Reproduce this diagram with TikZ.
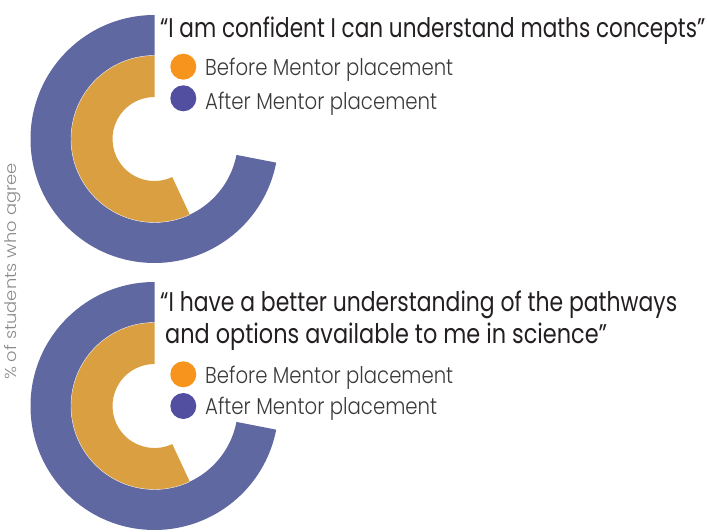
\documentclass[tikz,border=0pt]{standalone}
\usepackage{fontspec}
\usepackage{graphicx}
\setmainfont{Poppins}
\IfFontExistsTF{Poppins Light}{\newfontfamily\lightfont{Poppins Light}}{\newfontfamily\lightfont{Poppins}}
\usetikzlibrary{calc}
\definecolor{ringpurple}{HTML}{5F68A0}
\definecolor{ringorange}{HTML}{DA9F40}
\definecolor{legorange}{HTML}{F7941D}
\definecolor{legpurple}{HTML}{524FA1}
\definecolor{titletext}{HTML}{231F20}
\definecolor{legtext}{HTML}{3A3A3C}
\definecolor{axistext}{HTML}{8A8A8C}
\newcommand{\fitwidth}[2]{\resizebox{#1}{\height}{#2}}
\tikzset{
  titlestyle/.style={anchor=base west, inner sep=0pt, text=titletext, font=\fontsize{27}{32}\selectfont},
  legstyle/.style={anchor=base west, inner sep=0pt, text=legtext, font=\lightfont\fontsize{23}{27}\selectfont},
  dotorange/.style={circle, fill=legorange, minimum size=26pt, inner sep=0pt},
  dotpurple/.style={circle, fill=legpurple, minimum size=26pt, inner sep=0pt},
  ringline/.style={draw=white!85!ringpurple, line width=0.4pt}
}
\newcommand{\radialpair}[1]{%
  \fill[ringpurple] ($(#1)+(90:124)$) arc[start angle=90, end angle=349, radius=124]
     -- ($(#1)+(349:83.5)$) arc[start angle=349, end angle=90, radius=83.5] -- cycle;
  \fill[ringorange] ($(#1)+(90:83.5)$) arc[start angle=90, end angle=295, radius=83.5]
     -- ($(#1)+(295:42)$) arc[start angle=295, end angle=90, radius=42] -- cycle;
  \draw[ringline] ($(#1)+(90:83.5)$) arc[start angle=90, end angle=295, radius=83.5];
}
\begin{document}
\begin{tikzpicture}[x=1pt,y=1pt]
\useasboundingbox (0,0) rectangle (707,532);
% charts
\coordinate (c1) at (154.5,393);
\coordinate (c2) at (154.5,126);
\radialpair{c1}
\radialpair{c2}
% axis label
\node[rotate=90, text=axistext, font=\lightfont\fontsize{16}{19}\selectfont, inner sep=0pt] (ylab) at (13,260.5) {\fitwidth{217pt}{\% of students who agree}};
% top titles and legend
\node[titlestyle] (t1) at (160,494) {\fitwidth{545pt}{“I am confident I can understand maths concepts”}};
\node[dotorange] (o1) at (183.3,465.3) {};
\node[dotpurple] (p1) at (183.3,433.7) {};
\node[legstyle] (lb1) at (205,456) {\fitwidth{248pt}{Before Mentor placement}};
\node[legstyle] (la1) at (205,422) {\fitwidth{232pt}{After Mentor placement}};
% bottom titles and legend
\node[titlestyle] (t2a) at (160,220.3) {\fitwidth{517pt}{“I have a better understanding of the pathways}};
\node[titlestyle] (t2b) at (165,188.7) {\fitwidth{442pt}{and options available to me in science”}};
\node[dotorange] (o2) at (183.3,157.7) {};
\node[dotpurple] (p2) at (183.3,126) {};
\node[legstyle] (lb2) at (205,148.7) {\fitwidth{248pt}{Before Mentor placement}};
\node[legstyle] (la2) at (205,117) {\fitwidth{232pt}{After Mentor placement}};
\end{tikzpicture}
\end{document}
